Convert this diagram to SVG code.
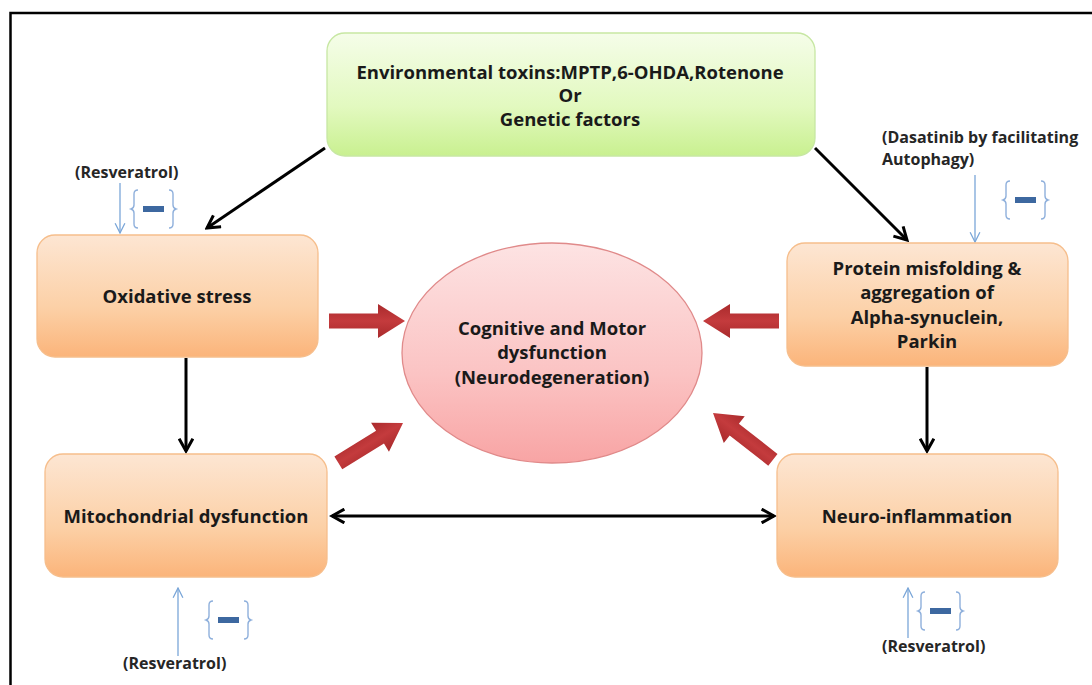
<svg xmlns="http://www.w3.org/2000/svg" width="1092" height="685" viewBox="0 0 1092 685">
<defs>
<linearGradient id="gOrange" x1="0" y1="0" x2="0" y2="1">
<stop offset="0" stop-color="#fde6d3"/><stop offset="0.6" stop-color="#fcd0a6"/><stop offset="1" stop-color="#fbb47a"/>
</linearGradient>
<linearGradient id="gGreen" x1="0" y1="0" x2="0" y2="1">
<stop offset="0" stop-color="#f5fde9"/><stop offset="0.6" stop-color="#e2f9bf"/><stop offset="1" stop-color="#c9f090"/>
</linearGradient>
<linearGradient id="gPink" x1="0" y1="0" x2="0" y2="1">
<stop offset="0" stop-color="#fde3e3"/><stop offset="0.6" stop-color="#fbc3c3"/><stop offset="1" stop-color="#f8a4a4"/>
</linearGradient>
<linearGradient id="gRed" x1="0" y1="0" x2="0" y2="1">
<stop offset="0" stop-color="#a92a2c"/><stop offset="0.5" stop-color="#c43b3d"/><stop offset="1" stop-color="#a92a2c"/>
</linearGradient>
<marker id="blk" viewBox="0 0 12 12" refX="10" refY="6" markerWidth="5.5" markerHeight="5.5" orient="auto-start-reverse" markerUnits="strokeWidth">
<path d="M1,1 L10,6 L1,11" fill="none" stroke="#000" stroke-width="2.2" stroke-linejoin="miter"/>
</marker>
<marker id="blu" viewBox="0 0 12 12" refX="11" refY="6" markerWidth="9" markerHeight="9" orient="auto" markerUnits="strokeWidth">
<path d="M1,1 L11,6 L1,11" fill="none" stroke="#7aa6d8" stroke-width="1.3"/>
</marker>
<path id="redArrow" d="M-76,-7.5 H-27 V-17 L0,0 L-27,17 V7.5 H-76 Z"/>
<g id="brk">
<path d="M7,0 Q3,0 3,4 V15 Q3,18 0,19 Q3,20 3,23 V34 Q3,38 7,38" fill="none" stroke="#8fb0dc" stroke-width="1.4"/>
<path d="M38,0 Q42,0 42,4 V15 Q42,18 45,19 Q42,20 42,23 V34 Q42,38 38,38" fill="none" stroke="#8fb0dc" stroke-width="1.4"/>
<rect x="12" y="16" width="21" height="6" fill="#3d68a0"/>
</g>
<style>
.box{stroke-width:1.3}
.or{fill:url(#gOrange);stroke:#f6be8c}
.lbl{font-family:"Open Sans",Lato,sans-serif;font-weight:bold;font-size:18.5px;fill:#1a1a1a;text-anchor:middle}
.sm{font-family:"Open Sans",Lato,sans-serif;font-weight:bold;font-size:16px;fill:#262626}
.conn{stroke:#000;stroke-width:3;fill:none}
.inh{stroke:#7aa6d8;stroke-width:1.3;fill:none}
.red{fill:url(#gRed)}
</style>
</defs>
<rect width="1092" height="685" fill="#fff"/>
<path d="M10.5,685 V13 H1092" fill="none" stroke="#000" stroke-width="2.5"/>

<g id="connectors">
<line class="conn" x1="325" y1="148" x2="207" y2="228" marker-end="url(#blk)"/>
<line class="conn" x1="815" y1="148" x2="907" y2="240" marker-end="url(#blk)"/>
<line class="conn" x1="186" y1="358" x2="186" y2="451" marker-end="url(#blk)"/>
<line class="conn" x1="927" y1="367" x2="927" y2="451" marker-end="url(#blk)"/>
<line class="conn" x1="332" y1="516" x2="774" y2="516" marker-start="url(#blk)" marker-end="url(#blk)"/>
<use href="#redArrow" class="red" transform="translate(405,321)"/>
<use href="#redArrow" class="red" transform="translate(703,321) rotate(180)"/>
<use href="#redArrow" class="red" transform="translate(403,423) rotate(-31.7)"/>
<use href="#redArrow" class="red" transform="translate(713,413) rotate(-142)"/>
</g>

<g id="inhibitors">
<line class="inh" x1="120" y1="183" x2="120" y2="233" marker-end="url(#blu)"/>
<use href="#brk" transform="translate(131,190)"/>
<text class="sm" x="75" y="178">(Resveratrol)</text>

<line class="inh" x1="975" y1="175" x2="975" y2="242" marker-end="url(#blu)"/>
<use href="#brk" transform="translate(1003,181)"/>
<text class="sm" x="882" y="143">(Dasatinib by facilitating</text>
<text class="sm" x="882" y="165">Autophagy)</text>

<line class="inh" x1="178" y1="656" x2="178" y2="588" marker-end="url(#blu)"/>
<use href="#brk" transform="translate(206,601)"/>
<text class="sm" x="123" y="669">(Resveratrol)</text>

<line class="inh" x1="908" y1="638" x2="908" y2="588" marker-end="url(#blu)"/>
<use href="#brk" transform="translate(918,592)"/>
<text class="sm" x="882" y="652">(Resveratrol)</text>
</g>

<g id="toxins">
<rect class="box" x="327" y="33" width="488" height="123" rx="18" fill="url(#gGreen)" stroke="#c7e7a3"/>
<text class="lbl" x="570" y="79">Environmental toxins:MPTP,6-OHDA,Rotenone</text>
<text class="lbl" x="570" y="102">Or</text>
<text class="lbl" x="570" y="126">Genetic factors</text>
</g>

<g id="oxidative">
<rect class="box or" x="37" y="235" width="281" height="122" rx="18"/>
<text class="lbl" x="177" y="303">Oxidative stress</text>
</g>

<g id="mito">
<rect class="box or" x="45" y="454" width="282" height="123" rx="18"/>
<text class="lbl" x="186" y="523">Mitochondrial dysfunction</text>
</g>

<g id="protein">
<rect class="box or" x="787" y="243" width="281" height="123" rx="18"/>
<text class="lbl" x="927" y="275">Protein misfolding &amp;</text>
<text class="lbl" x="927" y="299">aggregation of</text>
<text class="lbl" x="927" y="324">Alpha-synuclein,</text>
<text class="lbl" x="927" y="348">Parkin</text>
</g>

<g id="neuroinflammation">
<rect class="box or" x="777" y="454" width="281" height="123" rx="18"/>
<text class="lbl" x="917" y="523">Neuro-inflammation</text>
</g>

<g id="cognitive">
<ellipse cx="552" cy="353" rx="150" ry="110" fill="url(#gPink)" stroke="#e08a8a" stroke-width="1.3"/>
<text class="lbl" x="552" y="335">Cognitive and Motor</text>
<text class="lbl" x="552" y="359">dysfunction</text>
<text class="lbl" x="552" y="384">(Neurodegeneration)</text>
</g>
</svg>
